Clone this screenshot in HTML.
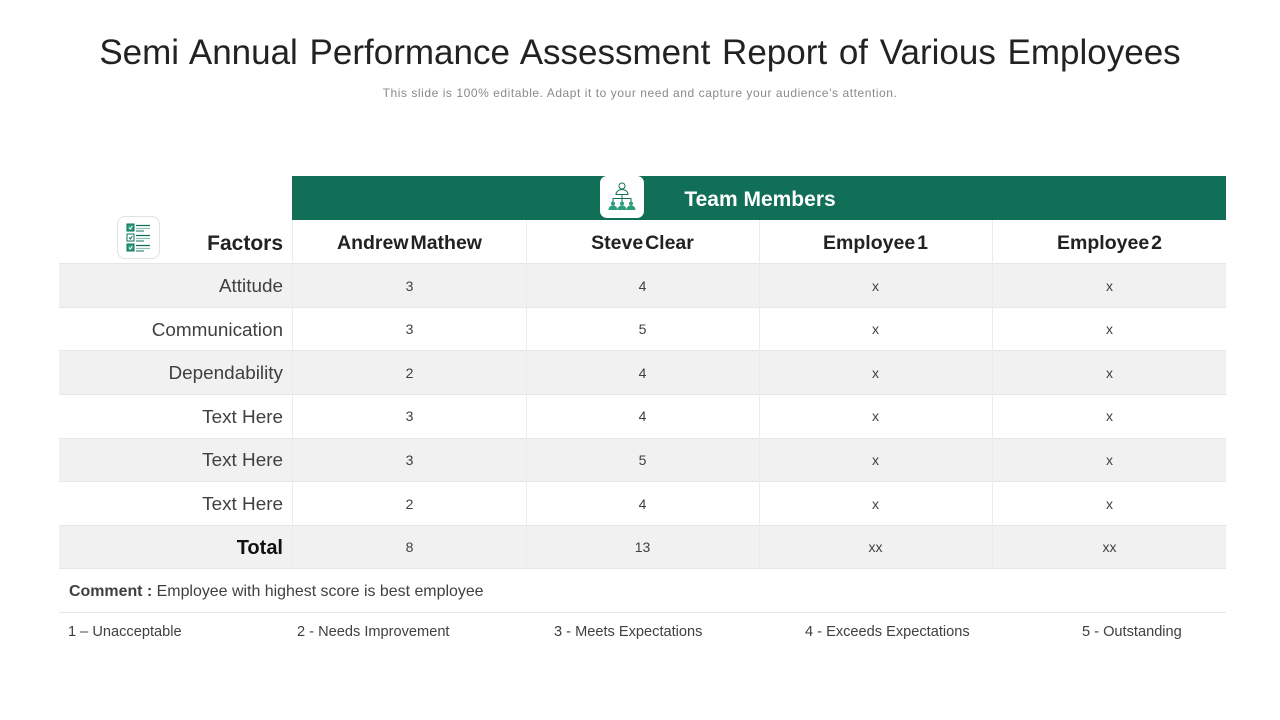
<!DOCTYPE html>
<html lang="en">
<head>
<meta charset="utf-8">
<title>Semi Annual Performance Assessment Report</title>
<style>
html,body{margin:0;padding:0;background:#fff}
#slide{position:relative;width:1280px;height:720px;overflow:hidden;background:#fff;font-family:"Liberation Sans",sans-serif;color:#404040}
#slide div,#slide svg{position:absolute}
.title{left:0;width:1280px;top:31px;height:44px;line-height:44px;text-align:center;font-size:35px;color:#222;word-spacing:2px;white-space:nowrap}
.sub{left:0;width:1280px;top:84px;height:18px;line-height:18px;text-align:center;font-size:12px;color:#8a8a8a;letter-spacing:.555px}
.band{left:59px;width:1167px;background:#f1f1f1}
.hl{left:59px;width:1167px;height:1px;background:#e6e6e6}
.vl{width:1px;background:#e9eded}
.c{height:44px;line-height:45px;text-align:center;font-size:14px;color:#404040}
.c1{left:293px;width:233px}.c2{left:526px;width:233px}.c3{left:759px;width:233px}.c4{left:993px;width:233px}
.f{left:59px;width:224px;height:44px;line-height:47px;text-align:right;font-size:18.9px;color:#404040;white-space:nowrap}
.h{height:44px;line-height:46px;text-align:center;font-size:19.5px;font-weight:bold;color:#222;white-space:nowrap;word-spacing:-3.5px}
.key{top:622px;height:20px;line-height:20px;font-size:14.6px;color:#404040;white-space:nowrap}
</style>
</head>
<body>
<div id="slide">
<div class="title">Semi Annual Performance Assessment Report of Various Employees</div>
<div class="sub">This slide is 100% editable. Adapt it to your need and capture your audience’s attention.</div>

<div style="left:292px;top:176px;width:934px;height:44px;background:#126f57"></div>
<div style="left:292px;top:176px;width:934px;height:44px;line-height:47px;text-align:center;font-size:21px;font-weight:bold;color:#fff;padding-left:2px;box-sizing:border-box">Team Members</div>

<div class="band" style="top:264px;height:43px"></div>
<div class="band" style="top:351px;height:44px"></div>
<div class="band" style="top:438px;height:44px"></div>
<div class="band" style="top:525px;height:44px"></div>

<div class="hl" style="top:263px"></div>
<div class="hl" style="top:307px"></div>
<div class="hl" style="top:350px"></div>
<div class="hl" style="top:394px"></div>
<div class="hl" style="top:438px"></div>
<div class="hl" style="top:481px"></div>
<div class="hl" style="top:525px"></div>
<div class="hl" style="top:568px"></div>
<div class="hl" style="top:612px"></div>

<div class="vl" style="left:292px;top:220px;height:349px"></div>
<div class="vl" style="left:526px;top:220px;height:349px"></div>
<div class="vl" style="left:759px;top:220px;height:349px"></div>
<div class="vl" style="left:992px;top:220px;height:349px"></div>

<div class="f" style="top:221px;line-height:46px;font-size:21px;font-weight:bold;color:#222">Factors</div>
<div class="h c1" style="top:220px">Andrew Mathew</div>
<div class="h c2" style="top:220px">Steve Clear</div>
<div class="h c3" style="top:220px">Employee 1</div>
<div class="h c4" style="top:220px">Employee 2</div>

<div class="f" style="top:263px">Attitude</div>
<div class="c c1" style="top:264px">3</div>
<div class="c c2" style="top:264px">4</div>
<div class="c c3" style="top:264px">x</div>
<div class="c c4" style="top:264px">x</div>

<div class="f" style="top:307px">Communication</div>
<div class="c c1" style="top:307px">3</div>
<div class="c c2" style="top:307px">5</div>
<div class="c c3" style="top:307px">x</div>
<div class="c c4" style="top:307px">x</div>

<div class="f" style="top:350px">Dependability</div>
<div class="c c1" style="top:351px">2</div>
<div class="c c2" style="top:351px">4</div>
<div class="c c3" style="top:351px">x</div>
<div class="c c4" style="top:351px">x</div>

<div class="f" style="top:394px">Text Here</div>
<div class="c c1" style="top:394px">3</div>
<div class="c c2" style="top:394px">4</div>
<div class="c c3" style="top:394px">x</div>
<div class="c c4" style="top:394px">x</div>

<div class="f" style="top:437px">Text Here</div>
<div class="c c1" style="top:438px">3</div>
<div class="c c2" style="top:438px">5</div>
<div class="c c3" style="top:438px">x</div>
<div class="c c4" style="top:438px">x</div>

<div class="f" style="top:481px">Text Here</div>
<div class="c c1" style="top:482px">2</div>
<div class="c c2" style="top:482px">4</div>
<div class="c c3" style="top:482px">x</div>
<div class="c c4" style="top:482px">x</div>

<div class="f" style="top:525px;line-height:46px;font-size:20px;font-weight:bold;color:#111">Total</div>
<div class="c c1" style="top:525px">8</div>
<div class="c c2" style="top:525px">13</div>
<div class="c c3" style="top:525px">xx</div>
<div class="c c4" style="top:525px">xx</div>

<div style="left:69px;top:582px;height:20px;line-height:20px;font-size:15.95px;color:#404040;white-space:nowrap"><b>Comment :</b> Employee with highest score is best employee</div>

<div class="key" style="left:68px">1 – Unacceptable</div>
<div class="key" style="left:297px">2 - Needs Improvement</div>
<div class="key" style="left:554px">3 - Meets Expectations</div>
<div class="key" style="left:805px">4 - Exceeds Expectations</div>
<div class="key" style="left:1082px">5 - Outstanding</div>

<div style="left:117px;top:216px;width:41px;height:41px;border:1px solid #e2e2e2;border-radius:8px;background:#fff"></div>
<svg style="left:117px;top:216px" width="43" height="43" viewBox="0 0 43 43">
<rect x="10" y="8" width="7" height="7" fill="#2a9d7c" stroke="#126f57"/>
<rect x="10" y="18" width="7" height="7" fill="#fff" stroke="#126f57"/>
<rect x="10" y="28" width="7" height="7" fill="#2a9d7c" stroke="#126f57"/>
<path d="M12 11.5l1.3 1.5 2-3M12 31.5l1.3 1.5 2-3" fill="none" stroke="#fff" stroke-width="1"/>
<path d="M12 21.5l1.3 1.5 2-3" fill="none" stroke="#126f57" stroke-width="1"/>
<path d="M19 9.5h14M19 19.5h14M19 29.5h14" stroke="#126f57" stroke-width="1.2"/>
<path d="M19 12.5h14M19 22.5h14M19 32.5h14" stroke="#8fbfb0" stroke-width="1.2"/>
<path d="M19 15h8M19 25h8M19 35h8" stroke="#126f57" stroke-width="1.1"/>
</svg>

<div style="left:600px;top:176px;width:44px;height:42px;border-radius:7px;background:#fff"></div>
<svg style="left:600px;top:176px" width="44" height="42" viewBox="0 0 44 42">
<circle cx="22" cy="10" r="3" fill="none" stroke="#126f57" stroke-width="1"/>
<path d="M16 18.5c0-3 3-5 6-5s6 2 6 5z" fill="none" stroke="#126f57" stroke-width="1"/>
<path d="M22 18.5v4M13 26v-3.500h18V26M22 22.500V26" fill="none" stroke="#126f57" stroke-width="1"/>
<circle cx="13" cy="27.500" r="2" fill="#2a9d7c"/><circle cx="22" cy="27.500" r="2" fill="#2a9d7c"/><circle cx="31" cy="27.500" r="2" fill="#2a9d7c"/>
<path d="M8.500 34c0-3 2-4.500 4.500-4.500s4.500 1.500 4.500 4.500zM17.500 34c0-3 2-4.500 4.500-4.500s4.500 1.500 4.500 4.500zM26.500 34c0-3 2-4.500 4.500-4.500s4.500 1.500 4.500 4.500z" fill="#2a9d7c"/>
</svg>
</div>
</body>
</html>
